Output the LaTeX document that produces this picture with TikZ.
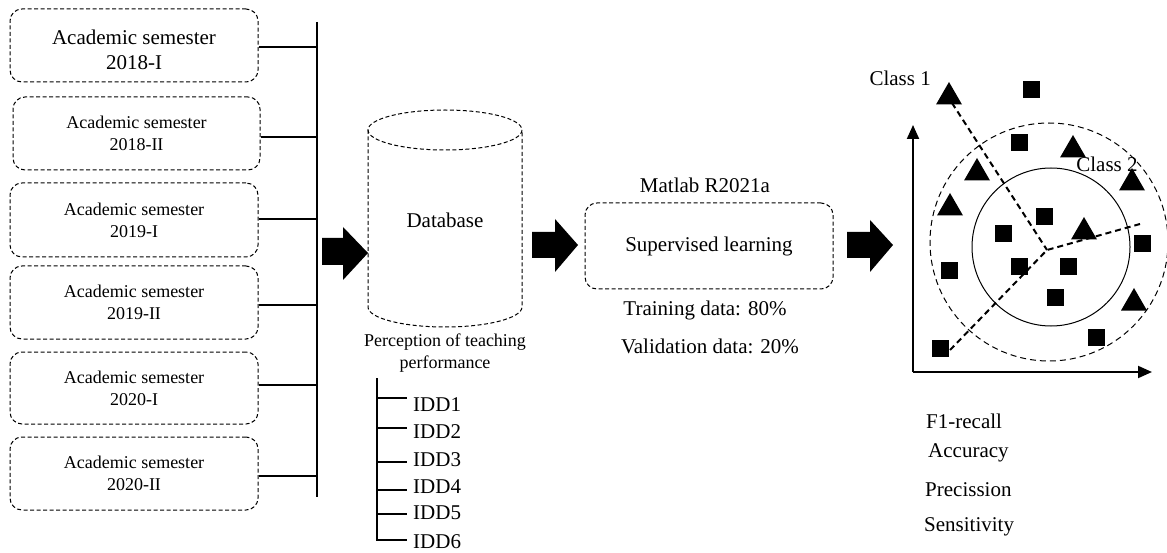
\documentclass[tikz,border=0pt]{standalone}
\usepackage{fontspec}
\setmainfont{Liberation Serif}
\usetikzlibrary{shapes.geometric,arrows.meta}
\begin{document}
\begin{tikzpicture}[x=1pt,y=-1pt,
  big/.style={font=\fontsize{21}{25}\selectfont},
  small/.style={font=\fontsize{18}{22}\selectfont},
  dsh/.style={dash pattern=on 4pt off 2.5pt, line width=1pt},
  sem/.style={draw, dsh, rounded corners=12pt, minimum width=248pt, minimum height=73pt, align=center, inner sep=0pt},
  bus/.style={line width=2.5pt},
  tick/.style={line width=2pt},
  blockarrow/.style={fill=black, draw=none},
  tri/.style={regular polygon, regular polygon sides=3, fill=black, draw=none, minimum size=30pt, inner sep=0pt},
  sq/.style={rectangle, fill=black, draw=none, minimum size=17pt, inner sep=0pt},
  sep/.style={dash pattern=on 6pt off 4pt, line width=2pt},
  axis/.style={line width=2pt, -{Triangle[length=14pt,width=12pt]}},
  lbl/.style={big, anchor=west, inner sep=0pt}]
\useasboundingbox (0,0) rectangle (1167,553);
\fill[white] (0,0) rectangle (1167,553);

% semester boxes
\node[sem] (s1) at (134,45.5) {};
\node[big, align=center] (s1t) at (134,50) {Academic semester\\2018-I};
\node[sem, small, minimum width=247pt] (s2) at (136.5,133.5) {Academic semester\\2018-II};
\node[sem, small, minimum height=74pt] (s3) at (134,220) {Academic semester\\2019-I};
\node[sem, small] (s4) at (134,302.5) {Academic semester\\2019-II};
\node[sem, small, minimum height=72pt] (s5) at (134,388) {Academic semester\\2020-I};
\node[sem, small] (s6) at (134,473.5) {Academic semester\\2020-II};

% bus
\coordinate (btop) at (317,22);
\coordinate (bbot) at (317,497);
\draw[bus] (btop) -- (bbot);
\draw[bus] (s1.east |- 0,47) -- (317,47);
\draw[bus] (s2.east |- 0,137) -- (317,137);
\draw[bus] (s3.east |- 0,219) -- (317,219);
\draw[bus] (s4.east |- 0,305) -- (317,305);
\draw[bus] (s5.east |- 0,385) -- (317,385);
\draw[bus] (s6.east |- 0,476) -- (317,476);

% arrow 1
\fill[blockarrow] (322,238) -- (343,238) -- (343,227) -- (368,253) -- (343,280) -- (343,265) -- (322,265) -- cycle;

% database cylinder
\draw[dsh] (445,130) ellipse [x radius=77, y radius=20];
\draw[dsh] (368,130) -- (368,307) arc [start angle=180, end angle=0, x radius=77, y radius=20] -- (522,130);
\node[big] (db) at (445,220) {Database};
\node[small, align=center] (perc) at (445,353) {Perception of teaching\\performance};

% IDD list
\coordinate (itop) at (377,378);
\coordinate (ibot) at (377,540);
\draw[tick] (itop) -- (ibot) -- (407,540);
\foreach \y in {398,428,462,490,514} {\draw[tick] (377,\y) -- (407,\y);}
\node[lbl] (i1) at (413,405) {IDD1};
\node[lbl] (i2) at (413,432) {IDD2};
\node[lbl] (i3) at (413,460) {IDD3};
\node[lbl] (i4) at (413,487) {IDD4};
\node[lbl] (i5) at (413,513) {IDD5};
\node[lbl] (i6) at (413,542) {IDD6};

% arrow 2
\fill[blockarrow] (532,232) -- (555,232) -- (555,219) -- (578,245) -- (555,272) -- (555,258) -- (532,258) -- cycle;

% supervised box
\node[big] (mat) at (705,185) {Matlab R2021a};
\node[sem, big, minimum width=248pt, minimum height=86pt] (sup) at (709,246) {Supervised learning};
\node[big] (tr) at (705,310) {Training data: 80\%};
\node[big] (va) at (710,346) {Validation data: 20\%};

% arrow 3
\fill[blockarrow] (847,232) -- (870,232) -- (870,220) -- (893,245) -- (870,272) -- (870,258) -- (847,258) -- cycle;

% scatter plot
\coordinate (o) at (913,372);
\draw[axis] (o) -- (913,125);
\draw[axis] (o) -- (1152,372);
\draw[dash pattern=on 6pt off 4pt, line width=1pt] (1049,242) circle [radius=119];
\draw[line width=1pt] (1051,247) circle [radius=79];

\node[tri] (t1) at (949,97) {};
\node[tri] (t2) at (1073,150) {};
\node[tri] (t3) at (977,173) {};
\node[tri] (t4) at (1132,183) {};
\node[tri] (t5) at (950,208) {};
\node[tri] (t6) at (1084,232) {};
\node[tri] (t7) at (1134,303) {};

\node[sq] (q1) at (1031,90) {};
\node[sq] (q2) at (1019,143) {};
\node[sq] (q3) at (1044,217) {};
\node[sq] (q4) at (1003,234) {};
\node[sq] (q5) at (1142,244) {};
\node[sq] (q6) at (949,271) {};
\node[sq] (q7) at (1019,267) {};
\node[sq] (q8) at (1068,267) {};
\node[sq] (q9) at (1055,298) {};
\node[sq] (q10) at (1096,337) {};
\node[sq] (q11) at (940,348) {};

\coordinate (j) at (1047,250);
\coordinate (l1) at (952,103);
\coordinate (l2) at (950,350);
\coordinate (r2) at (1140,224);
\draw[sep] (l1) -- (j);
\draw[sep] (l2) -- (j) -- (r2);

\node[big, anchor=east, inner sep=0pt] (c1) at (931,78) {Class 1};
\node[big, inner sep=0pt] (c2) at (1107,164) {Class 2};

% metrics
\node[lbl] (m1) at (926,421) {F1-recall};
\node[lbl] (m2) at (928,453) {Accuracy};
\node[lbl] (m3) at (925,490) {Precission};
\node[lbl] (m4) at (924,527) {Sensitivity};
\end{tikzpicture}
\end{document}
